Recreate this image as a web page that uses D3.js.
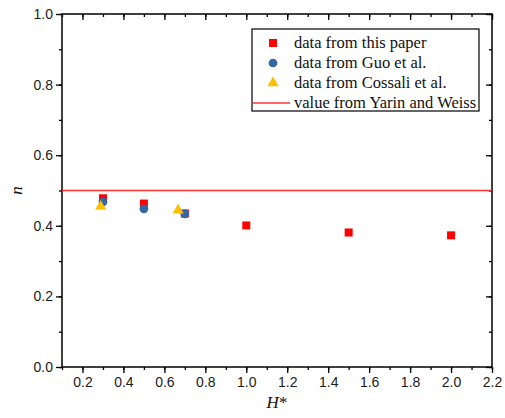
<!DOCTYPE html>
<html>
<head>
<meta charset="utf-8">
<script src="https://cdn.jsdelivr.net/npm/d3@7"></script>
<style>
  body { margin: 0; background: #fff; }
  svg { display: block; }
</style>
</head>
<body>
<svg id="chart"></svg>
<script>
// values
const paperH = [0.3, 0.5, 0.7, 1.0, 1.5, 2.0];
const paperN = [0.478, 0.463, 0.435, 0.401, 0.381, 0.373];
const guoH = [0.3, 0.5, 0.7];
const guoN = [0.468, 0.448, 0.434];
const cossaliH = [0.289, 0.667];
const cossaliN = [0.455, 0.444];
const yarinN = 0.5;
const xTicks = [0.2, 0.4, 0.6, 0.8, 1.0, 1.2, 1.4, 1.6, 1.8, 2.0, 2.2];
const yTicks = [0.0, 0.2, 0.4, 0.6, 0.8, 1.0];
const legendLabels = ["data from this paper", "data from Guo et al.", "data from Cossali et al.", "value from Yarin and Weiss"];

const width = 505, height = 418;
const margin = {left: 62, right: 13, top: 14, bottom: 51};

const svg = d3.select("#chart")
    .attr("width", width)
    .attr("height", height);

const x = d3.scaleLinear().domain([0.1, 2.2]).range([margin.left, width - margin.right]);
const y = d3.scaleLinear().domain([0, 1]).range([height - margin.bottom, margin.top]);

const red = "#ff0000", blue = "#3465a4", yellow = "#ffc000";

// minor ticks
const xMinor = d3.range(0.1, 2.21, 0.1).map(d => +d.toFixed(1));
const yMinor = d3.range(0, 1.01, 0.1).map(d => +d.toFixed(1));

const axisFont = "Liberation Sans, Arial, sans-serif";
const serif = "Liberation Serif, Times New Roman, serif";

function styleAxis(g) {
    g.select(".domain").remove();
    g.selectAll("line").attr("stroke", "#000").attr("stroke-width", 1.3);
    g.selectAll("text").attr("font-family", axisFont).attr("font-size", 14).attr("fill", "#1a1a1a");
}

// bottom
svg.append("g").attr("transform", `translate(0,${y(0)})`)
    .call(d3.axisBottom(x).tickValues(xMinor).tickSize(3).tickFormat(""))
    .call(styleAxis);
svg.append("g").attr("transform", `translate(0,${y(0)})`)
    .call(d3.axisBottom(x).tickValues(xTicks).tickSize(6).tickPadding(4).tickFormat(d3.format(".1f")))
    .call(styleAxis);
// top (inward)
svg.append("g").attr("transform", `translate(0,${y(1)})`)
    .call(d3.axisBottom(x).tickValues(xMinor).tickSize(3).tickFormat(""))
    .call(styleAxis);
svg.append("g").attr("transform", `translate(0,${y(1)})`)
    .call(d3.axisBottom(x).tickValues(xTicks).tickSize(6).tickFormat(""))
    .call(styleAxis);
// left
svg.append("g").attr("transform", `translate(${x(0.1)},0)`)
    .call(d3.axisLeft(y).tickValues(yMinor).tickSize(3).tickFormat(""))
    .call(styleAxis);
svg.append("g").attr("transform", `translate(${x(0.1)},0)`)
    .call(d3.axisLeft(y).tickValues(yTicks).tickSize(6).tickPadding(3).tickFormat(d3.format(".1f")))
    .call(styleAxis);
// right (inward)
svg.append("g").attr("transform", `translate(${x(2.2)},0)`)
    .call(d3.axisLeft(y).tickValues(yMinor).tickSize(3).tickFormat(""))
    .call(styleAxis);
svg.append("g").attr("transform", `translate(${x(2.2)},0)`)
    .call(d3.axisLeft(y).tickValues(yTicks).tickSize(6).tickFormat(""))
    .call(styleAxis);

// frame
svg.append("rect")
    .attr("x", x(0.1)).attr("y", y(1))
    .attr("width", x(2.2) - x(0.1)).attr("height", y(0) - y(1))
    .attr("fill", "none").attr("stroke", "#000").attr("stroke-width", 1.5);

// Yarin and Weiss line
svg.append("line")
    .attr("x1", x(0.1)).attr("x2", x(2.2))
    .attr("y1", y(yarinN)).attr("y2", y(yarinN))
    .attr("stroke", "#ff3333").attr("stroke-width", 1.5);

// markers
const sq = d3.symbol().type(d3.symbolSquare).size(64);
const circ = d3.symbol().type(d3.symbolCircle).size(60);
const tri = d3.symbol().type(d3.symbolTriangle).size(55);

svg.append("g").selectAll("path")
    .data(paperH.map((h, i) => [h, paperN[i]]))
    .enter().append("path")
    .attr("d", sq)
    .attr("transform", d => `translate(${x(d[0])},${y(d[1])})`)
    .attr("fill", red);

svg.append("g").selectAll("path")
    .data(guoH.map((h, i) => [h, guoN[i]]))
    .enter().append("path")
    .attr("d", circ)
    .attr("transform", d => `translate(${x(d[0])},${y(d[1])})`)
    .attr("fill", blue);

svg.append("g").selectAll("path")
    .data(cossaliH.map((h, i) => [h, cossaliN[i]]))
    .enter().append("path")
    .attr("d", tri)
    .attr("transform", d => `translate(${x(d[0])},${y(d[1])})`)
    .attr("fill", yellow);

// legend
const legend = svg.append("g").attr("transform", "translate(252,29)");
legend.append("rect")
    .attr("width", 227).attr("height", 82)
    .attr("fill", "#fff").attr("stroke", "#000").attr("stroke-width", 1.2);

const rowY = i => 14 + i * 20;
legend.append("path").attr("d", sq).attr("transform", `translate(21,${rowY(0)})`).attr("fill", red);
legend.append("path").attr("d", circ).attr("transform", `translate(21,${rowY(1)})`).attr("fill", blue);
legend.append("path").attr("d", tri).attr("transform", `translate(21,${rowY(2)})`).attr("fill", yellow);
legend.append("line").attr("x1", 1).attr("x2", 38)
    .attr("y1", rowY(3)).attr("y2", rowY(3))
    .attr("stroke", "#ff3333").attr("stroke-width", 1.5);

legend.selectAll("text.lab")
    .data(legendLabels)
    .enter().append("text")
    .attr("class", "lab")
    .attr("x", 42)
    .attr("y", (d, i) => rowY(i))
    .attr("dy", "0.33em")
    .attr("font-family", serif)
    .attr("font-size", 16.5)
    .attr("fill", "#111")
    .text(d => d);

// axis titles
svg.append("text")
    .attr("x", 277)
    .attr("y", 408)
    .attr("text-anchor", "middle")
    .attr("font-family", serif)
    .attr("font-size", 17)
    .attr("fill", "#111")
    .html('<tspan font-style="italic">H</tspan>*');

svg.append("text")
    .attr("transform", `translate(22,${y(0.5)}) rotate(-90)`)
    .attr("text-anchor", "middle")
    .attr("font-family", serif)
    .attr("font-style", "italic")
    .attr("font-size", 17)
    .attr("fill", "#111")
    .text("n");
</script>
</body>
</html>
